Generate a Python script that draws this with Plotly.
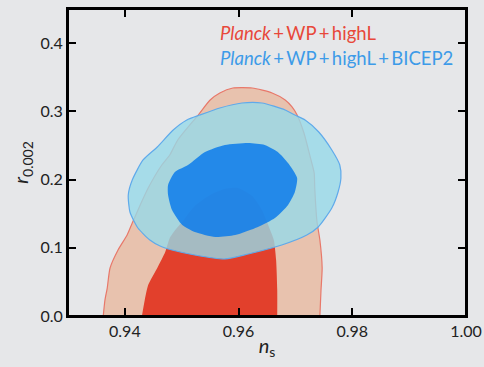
import plotly.graph_objects as go

# Contour outlines (n_s, r_0.002)
red68_ns = [0.9430, 0.9435, 0.9441, 0.9457, 0.9471, 0.9479, 0.9490, 0.9501, 0.9523, 0.9553,
            0.9576, 0.9599, 0.9624, 0.9641, 0.9652, 0.9662, 0.9666, 0.9668, 0.9668]
red68_r = [0.0, 0.0235, 0.0454, 0.0704, 0.0938, 0.1143, 0.1275, 0.1378, 0.1612, 0.1788,
           0.1862, 0.1876, 0.1759, 0.1554, 0.1334, 0.1114, 0.0821, 0.0381, 0.0]

red95_ns = [0.9362, 0.9365, 0.9369, 0.9374, 0.9388, 0.9404, 0.9413, 0.9427, 0.9441, 0.9465,
            0.9479, 0.9493, 0.9529, 0.9550, 0.9567, 0.9590, 0.9624, 0.9659, 0.9682, 0.9694,
            0.9703, 0.9715, 0.9726, 0.9733, 0.9734, 0.9738, 0.9743, 0.9747, 0.9745, 0.9743]
red95_r = [0.0, 0.0235, 0.0410, 0.0704, 0.0967, 0.1187, 0.1363, 0.1627, 0.1876, 0.2213,
           0.2360, 0.2580, 0.2946, 0.3166, 0.3269, 0.3342, 0.3342, 0.3269, 0.3166, 0.3064,
           0.2946, 0.2682, 0.2331, 0.2096, 0.1876, 0.1378, 0.1114, 0.0704, 0.0381, 0.0]

blue95_ns = [0.9406, 0.9409, 0.9423, 0.9444, 0.9462, 0.9483, 0.9523, 0.9576, 0.9617, 0.9676,
             0.9720, 0.9740, 0.9764, 0.9775, 0.9780, 0.9778, 0.9764, 0.9741, 0.9717, 0.9699,
             0.9682, 0.9641, 0.9606, 0.9567, 0.9532, 0.9509, 0.9485, 0.9457, 0.9432, 0.9413, 0.9406]
blue95_r = [0.1774, 0.1524, 0.1290, 0.1114, 0.1026, 0.0967, 0.0894, 0.0836, 0.0909, 0.1041,
            0.1187, 0.1305, 0.1583, 0.1818, 0.2023, 0.2213, 0.2433, 0.2697, 0.2873, 0.2946,
            0.3020, 0.3122, 0.3122, 0.3049, 0.2946, 0.2873, 0.2726, 0.2477, 0.2287, 0.1993, 0.1774]

blue68_ns = [0.9476, 0.9476, 0.9488, 0.9511, 0.9541, 0.9576, 0.9617, 0.9646, 0.9669, 0.9687,
             0.9703, 0.9699, 0.9687, 0.9664, 0.9634, 0.9594, 0.9559, 0.9523, 0.9501, 0.9483, 0.9476]
blue68_r = [0.1774, 0.1920, 0.2111, 0.2213, 0.2404, 0.2507, 0.2536, 0.2507, 0.2404, 0.2243,
            0.2023, 0.1818, 0.1627, 0.1436, 0.1305, 0.1187, 0.1158, 0.1231, 0.1334, 0.1554, 0.1774]

x_ticks = [0.94, 0.96, 0.98, 1.00]
x_ticklabels = ["0.94", "0.96", "0.98", "1.00"]
y_ticks = [0.0, 0.1, 0.2, 0.3, 0.4]
y_ticklabels = ["0.0", "0.1", "0.2", "0.3", "0.4"]

legend_labels = ["<i>Planck</i>\u2009+\u2009WP\u2009+\u2009highL",
                 "<i>Planck</i>\u2009+\u2009WP\u2009+\u2009highL\u2009+\u2009BICEP2"]

BG = "#e6e7e9"
FONT = "Lato"

fig = go.Figure()
fig.add_trace(go.Scatter(x=red95_ns, y=red95_r, mode="lines", fill="toself",
                         fillcolor="#e8c2ae", line=dict(color="#e8786a", width=1.2, shape="spline", smoothing=0.6),
                         hoverinfo="skip", showlegend=False))
fig.add_trace(go.Scatter(x=red68_ns, y=red68_r, mode="lines", fill="toself",
                         fillcolor="#e2402c", line=dict(color="#e2402c", width=0, shape="spline", smoothing=0.6),
                         hoverinfo="skip", showlegend=False))
fig.add_trace(go.Scatter(x=blue95_ns, y=blue95_r, mode="lines", fill="toself",
                         fillcolor="rgba(150,218,232,0.8)",
                         line=dict(color="rgba(95,170,235,1)", width=1.2, shape="spline", smoothing=0.6),
                         hoverinfo="skip", showlegend=False))
fig.add_trace(go.Scatter(x=blue68_ns, y=blue68_r, mode="lines", fill="toself",
                         fillcolor="rgba(12,123,235,0.85)",
                         line=dict(color="rgba(12,123,235,0)", width=0, shape="spline", smoothing=0.6),
                         hoverinfo="skip", showlegend=False))

axis_common = dict(showline=True, linewidth=2, linecolor="black", mirror="allticks",
                   ticks="inside", ticklen=8, tickwidth=1.6, tickcolor="black",
                   showgrid=False, zeroline=False, automargin=False, layer="above traces",
                   tickfont=dict(family=FONT, size=16, color="#222"))

fig.update_xaxes(range=[0.93, 1.00], tickvals=x_ticks, ticktext=x_ticklabels,
                 title=dict(text="<i>n</i><sub>s</sub>", font=dict(family=FONT, size=20, color="#222"), standoff=0),
                 **axis_common)
fig.update_yaxes(range=[0.0, 0.45], tickvals=y_ticks, ticktext=y_ticklabels,
                 title=dict(text="<i>r</i><sub>0.002</sub>", font=dict(family=FONT, size=20, color="#222"), standoff=6),
                 **axis_common)

# plot frame
fig.add_shape(type="rect", xref="paper", yref="paper", x0=0, y0=0, x1=1, y1=1,
              line=dict(color="black", width=2), fillcolor="rgba(0,0,0,0)", layer="above")

fig.add_annotation(x=0.377, y=0.922, xref="paper", yref="paper", xanchor="left", yanchor="middle",
                   text=legend_labels[0], showarrow=False,
                   font=dict(family=FONT, size=18.5, color="#e8483a"))
fig.add_annotation(x=0.377, y=0.840, xref="paper", yref="paper", xanchor="left", yanchor="middle",
                   text=legend_labels[1], showarrow=False,
                   font=dict(family=FONT, size=18.5, color="#3d9be8"))

fig.update_layout(width=484, height=367, paper_bgcolor=BG, plot_bgcolor=BG,
                  margin=dict(l=68, r=18, t=9, b=51), showlegend=False)

fig.write_html("out.html", config={"displayModeBar": False},
               post_script="document.body.style.margin='0';document.body.style.background='%s';" % BG)
